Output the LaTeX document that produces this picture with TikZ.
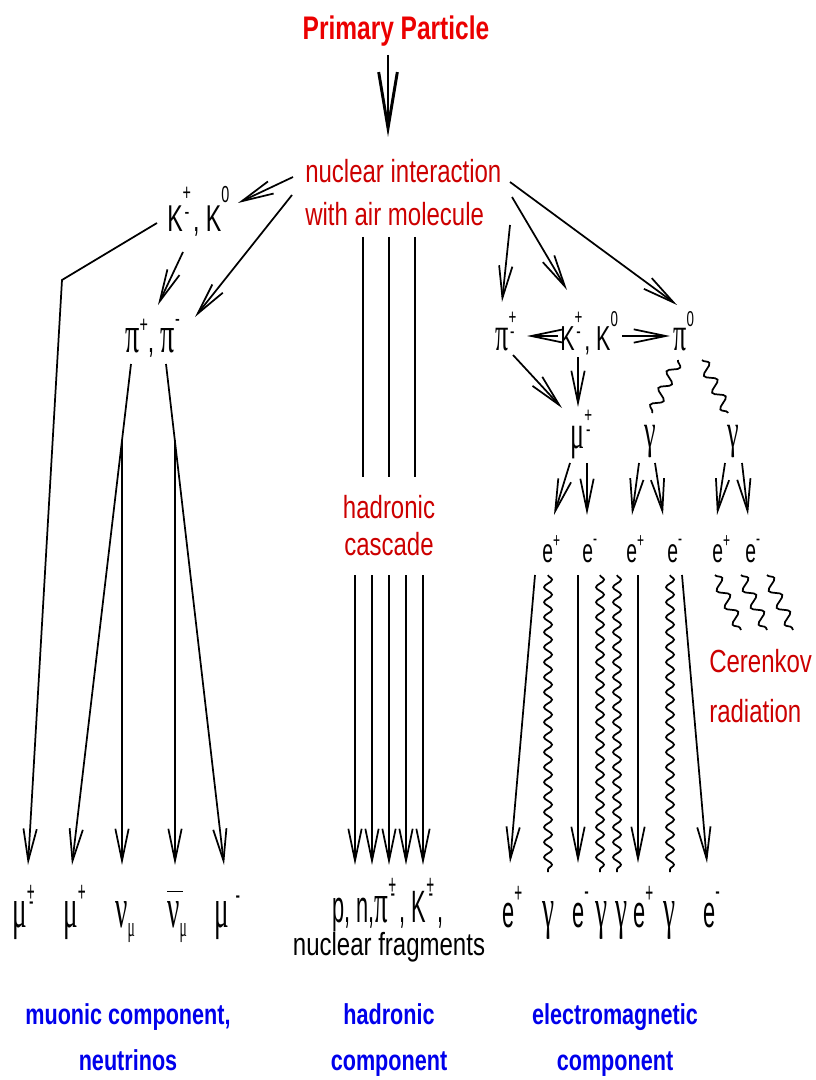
\documentclass[tikz,border=0pt]{standalone}
\usepackage{fontspec}
\setmainfont{Liberation Sans}[FakeStretch=0.75]
\newfontfamily\lbl{Liberation Sans}[FakeStretch=0.62]
\newfontfamily\grk{Liberation Serif}[FakeStretch=0.54,Scale=1.4]
\newfontfamily\nar{Liberation Sans}[FakeStretch=0.58]
\newfontfamily\narr{Liberation Sans}[FakeStretch=0.48]
\newfontfamily\grkn{Liberation Serif}[FakeStretch=0.48,Scale=1.25]
\usetikzlibrary{arrows.meta,decorations.pathmorphing}
\definecolor{tred}{RGB}{235,0,0}
\definecolor{dred}{RGB}{204,0,0}
\definecolor{cblue}{RGB}{0,0,235}
\newcommand\PM[2]{\rlap{\raisebox{#1}{\scalebox{0.62}{+}}}\hspace{0.05em}\raisebox{#2}{\scalebox{0.62}{-}}\hspace{0.1em}}
\newcommand\SUP[2]{\raisebox{#1}{\scalebox{0.62}{#2}}}
\newcommand\SUB[1]{\raisebox{-0.2em}{\scalebox{0.5}{#1}}}
\tikzset{
  ln/.style={line width=1.3pt},
  arr/.style={ln, -{Straight Barb[length=24pt,width=10pt]}},
  parr/.style={line width=2.2pt, -{Straight Barb[length=42pt,width=14pt]}},
  wav/.style={ln, decorate, decoration={snake, segment length=11.25pt, amplitude=3pt}},
  wavs/.style={ln, decorate, decoration={snake, segment length=14pt, amplitude=4pt}},
  lab/.style={inner sep=0pt, anchor=base west, font=\fontsize{26}{30}\selectfont\lbl},
  blab/.style={inner sep=0pt, anchor=base west, font=\fontsize{34}{38}\selectfont\narr},
  elab/.style={inner sep=0pt, anchor=base west, font=\fontsize{25}{28}\selectfont\nar},
  titletxt/.style={inner sep=0pt, anchor=base, text=tred, font=\fontsize{24.5}{30}\selectfont\bfseries},
  rtxt/.style={inner sep=0pt, text=dred},
  comp/.style={inner sep=0pt, anchor=base, align=center, text=cblue, font=\fontsize{21.6}{34.5}\selectfont\bfseries}
}
\begin{document}
\begin{tikzpicture}[x=0.75pt,y=-0.75pt]
\useasboundingbox (0,0) rectangle (815,1080);
% ---------- texts ----------
\node[titletxt] (prim) at (396,40) {Primary Particle};
\node[rtxt, anchor=base west, align=left, font=\fontsize{24}{32.25}\selectfont] (nuc) at (305,226) {nuclear interaction\\with air molecule};
\node[rtxt, anchor=base, align=center, font=\fontsize{24}{27.75}\selectfont] (cas) at (389,555) {hadronic\\cascade};
\node[rtxt, anchor=base west, align=left, font=\fontsize{24}{37.5}\selectfont] (cer) at (709,722) {Cerenkov\\radiation};
% left labels
\node[lab, font=\fontsize{28}{30}\selectfont\lbl] (Kl) at (167,232) {K\PM{0.85em}{0.34em}, K\SUP{0.8em}{0}};
\node[lab, font=\fontsize{28}{30}\selectfont\lbl] (pil) at (125,352) {{\grk π}\SUP{0.52em}{+}, {\grk π}\SUP{0.68em}{-}};
% right labels
\node[lab] (pipm) at (495,350) {{\grk π}\PM{0.75em}{0.33em}};
\node[lab] (Kr) at (560,350) {K\PM{0.75em}{0.33em}, K\SUP{0.68em}{0}};
\node[lab] (pi0) at (673,350) {{\grk π}\SUP{0.68em}{0}};
\node[lab] (mum) at (570,448) {{\grk μ}\PM{0.75em}{0.33em}};
\node[lab, anchor=base] (ga) at (650,447) {{\grk γ}};
\node[lab, anchor=base] (gb) at (733,447) {{\grk γ}};
\node[elab] (ea) at (542,562) {e\SUP{0.45em}{+}};
\node[elab] (eb) at (582,562) {e\SUP{0.5em}{-}};
\node[elab] (ec) at (626,562) {e\SUP{0.45em}{+}};
\node[elab] (ed) at (667,562) {e\SUP{0.5em}{-}};
\node[elab] (ee) at (712,562) {e\SUP{0.45em}{+}};
\node[elab] (ef) at (745,562) {e\SUP{0.5em}{-}};
% bottom labels
\node[blab] (b1) at (12,927) {{\grkn μ}\PM{0.56em}{0.36em}};
\node[blab] (b2) at (63,927) {{\grkn μ}\SUP{0.56em}{+}};
\node[blab] (b3) at (115,927) {{\grkn ν}\SUB{\grkn μ}};
\node[blab] (b4) at (167,927) {\rlap{\rule[0.78em]{0.34em}{0.025em}}{\grkn ν}\SUB{\grkn μ}};
\node[blab] (b5) at (214,927) {{\grkn μ}\hspace{0.15em}\SUP{0.5em}{-}};
\node[blab, anchor=base] (prow) at (388,922) {p, n,{\grkn π}\PM{0.6em}{0.43em}, K\PM{0.6em}{0.43em},};
\node[inner sep=0pt, anchor=base, font=\fontsize{24}{30}\selectfont] (frag) at (389,955) {nuclear fragments};
\node[blab] (c1) at (502,927) {e\SUP{0.54em}{+}};
\node[blab] (c2) at (542,927) {{\grkn γ}};
\node[blab] (c3) at (572,927) {e\SUP{0.59em}{-}};
\node[blab] (c4) at (595,927) {{\grkn γ}};
\node[blab] (c5) at (615,927) {{\grkn γ}};
\node[blab] (c6) at (633,927) {e\SUP{0.54em}{+}};
\node[blab] (c7) at (663,927) {{\grkn γ}};
\node[blab] (c8) at (703,927) {e\SUP{0.59em}{-}};
% component labels
\node[comp] (cmu) at (128,1070) {muonic component,\\neutrinos};
\node[comp] (chad) at (389,1070) {hadronic\\component};
\node[comp] (cem) at (615,1070) {electromagnetic\\component};
% ---------- coordinates ----------
\coordinate (p0) at (388,55);   \coordinate (p1) at (388,137);
\coordinate (nl1) at (293,177); \coordinate (Kin) at (238,203);
\coordinate (nl2) at (292,195); \coordinate (piin) at (195,317);
\coordinate (Kout) at (183,252); \coordinate (piin2) at (158,305);
\coordinate (Kl0) at (157,223); \coordinate (Kl1) at (62,280); \coordinate (t1) at (28,865);
\coordinate (pp0) at (131,364); \coordinate (t2) at (72,865);
\coordinate (jn1) at (122,440); \coordinate (t3) at (122,865);
\coordinate (pm0) at (166,364); \coordinate (t5) at (224,865);
\coordinate (jn2) at (175,440); \coordinate (t4) at (175,865);
% right
\coordinate (nr1) at (510,225); \coordinate (pipmin) at (502,302);
\coordinate (nr2) at (512,197); \coordinate (Krin) at (567,290);
\coordinate (nr3) at (510,182); \coordinate (pi0in) at (677,305);
\coordinate (Kra) at (558,336); \coordinate (pipmr) at (527,336);
\coordinate (Krb) at (622,336); \coordinate (pi0l) at (670,336);
\coordinate (pipmo) at (513,355); \coordinate (muin1) at (562,408);
\coordinate (Kro) at (578,357); \coordinate (muin2) at (578,407);
\coordinate (pi0a) at (678,360); \coordinate (gain) at (652,413);
\coordinate (pi0b) at (702,360); \coordinate (gbin) at (728,413);
\coordinate (mua) at (570,463); \coordinate (eain) at (554,515);
\coordinate (mub) at (587,463); \coordinate (ebin) at (587,515);
\coordinate (gaa) at (639,463); \coordinate (ecin) at (632,515);
\coordinate (gab) at (655,463); \coordinate (edin) at (663,515);
\coordinate (gba) at (725,463); \coordinate (eein) at (717,515);
\coordinate (gbb) at (742,463); \coordinate (efin) at (748,515);
% ---------- connectors ----------
\draw[parr] (p0) -- (p1);
\draw[arr] (nl1) -- (Kin);
\draw[arr] (nl2) -- (piin);
\draw[arr] (Kout) -- (piin2);
\draw[arr] (Kl0) -- (Kl1) -- (t1);
\draw[arr] (pp0) -- (t2);
\draw[arr] (jn1) -- (t3);
\draw[arr] (pm0) -- (t5);
\draw[arr] (jn2) -- (t4);
% hadronic
\foreach \x in {363,389,415} {
  \coordinate (hu\x) at (\x,237); \coordinate (hd\x) at (\x,477);
  \draw[ln] (hu\x) -- (hd\x);
}
\foreach \x in {355,372,389,406,423} {
  \coordinate (hs\x) at (\x,575); \coordinate (ht\x) at (\x,865);
  \draw[arr] (hs\x) -- (ht\x);
}
% right branch
\draw[arr] (nr1) -- (pipmin);
\draw[arr] (nr2) -- (Krin);
\draw[arr] (nr3) -- (pi0in);
\draw[arr] (Kra) -- (pipmr);
\draw[arr] (Krb) -- (pi0l);
\draw[arr] (pipmo) -- (muin1);
\draw[arr] (Kro) -- (muin2);
\draw[wavs] (pi0a) -- (gain);
\draw[wavs] (pi0b) -- (gbin);
\draw[arr] (mua) -- (eain);
\draw[arr] (mub) -- (ebin);
\draw[arr] (gaa) -- (ecin);
\draw[arr] (gab) -- (edin);
\draw[arr] (gba) -- (eein);
\draw[arr] (gbb) -- (efin);
% electromagnetic
\coordinate (e1s) at (535,575); \coordinate (e1t) at (510,863);
\coordinate (e2s) at (578,575); \coordinate (e2t) at (578,863);
\coordinate (e3s) at (638,575); \coordinate (e3t) at (638,863);
\coordinate (e4s) at (682,575); \coordinate (e4t) at (707,863);
\draw[arr] (e1s) -- (e1t);
\draw[arr] (e2s) -- (e2t);
\draw[arr] (e3s) -- (e3t);
\draw[arr] (e4s) -- (e4t);
\foreach \x in {548,600,617,670} {
  \coordinate (ws\x) at (\x,575); \coordinate (we\x) at (\x,872);
  \draw[wav] (ws\x) -- (we\x);
}
% Cerenkov
\foreach \x in {715,741,767} {
  \coordinate (cs\x) at (\x,575); \coordinate (ce\x) at (\x+26,630);
  \draw[wavs] (cs\x) -- (ce\x);
}
\end{tikzpicture}
\end{document}
